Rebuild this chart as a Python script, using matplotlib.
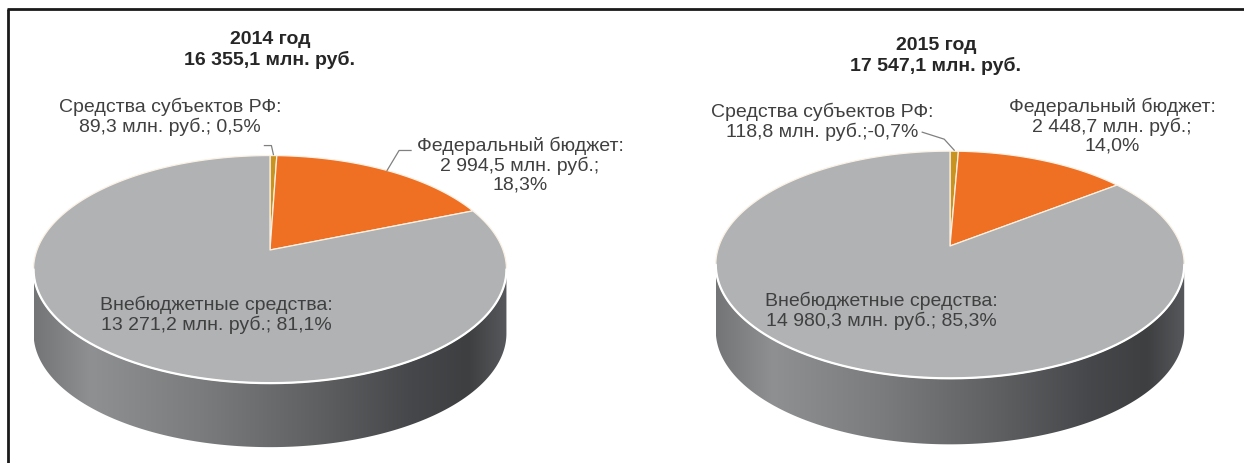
import numpy as np
import matplotlib
matplotlib.use('Agg')
import matplotlib.pyplot as plt
from matplotlib.patches import Polygon
from matplotlib.colors import LinearSegmentedColormap

plt.rcParams['font.family'] = ['Liberation Sans', 'DejaVu Sans']

# data
years = ['2014 год', '2015 год']
totals = ['16 355,1 млн. руб.', '17 547,1 млн. руб.']
sources = ['Средства субъектов РФ', 'Федеральный бюджет', 'Внебюджетные средства']
values_2014 = [89.3, 2994.5, 13271.2]
values_2015 = [118.8, 2448.7, 14980.3]
pct_2014 = ['0,5%', '18,3%', '81,1%']
pct_2015 = ['-0,7%', '14,0%', '85,3%']

slice_colors = ['#c8931f', '#f07023', '#b0b2b4']
side_cmap = LinearSegmentedColormap.from_list('side', [
    (0.0, '#737577'), (0.12, '#8e9092'), (0.35, '#7a7c7e'),
    (0.6, '#5e6062'), (0.8, '#45474a'), (0.92, '#3d3f41'), (1.0, '#56585b')])

# pie geometry in pixels: centre, radius, vertical radius, perspective, depth
geoms = [dict(cx=270, cy=250, r=233, ry=110.5, k=0.17, depth=64),
         dict(cx=950, cy=246, r=231, ry=110.5, k=0.165, depth=66)]
title_pos = [(270, 50), (936, 56)]
# label text layout per slice: separator between value and percent, and position
label_sep = [['; ', ';\n', '; '], [';', ';\n', '; ']]
label_pos = [[(170, 117), (520, 165), (216, 315)],
             [(822, 122), (1112, 126), (881, 311)]]


def fmt(v):
    return f'{v:,.1f}'.replace(',', ' ').replace('.', ',')


def project(theta, g):
    c, s = np.cos(theta), np.sin(theta)
    w = 1 + g['k'] * s
    return g['cx'] + g['r'] * c / w, g['cy'] - g['ry'] * s / w


fig = plt.figure(figsize=(12.44, 4.63), dpi=100)
ax = fig.add_axes([0, 0, 1, 1])
ax.set_xlim(0, 1244)
ax.set_ylim(463, 0)
ax.axis('off')

for i, (vals, pcts) in enumerate([(values_2014, pct_2014), (values_2015, pct_2015)]):
    g = geoms[i]
    k = g['k']

    # side wall (front half, extruded down)
    th = np.linspace(np.pi + np.arcsin(k), 2 * np.pi - np.arcsin(k), 300)
    tx, ty = project(th, g)
    side = np.column_stack([np.r_[tx, tx[::-1]], np.r_[ty, ty[::-1] + g['depth']]])
    side_patch = Polygon(side, closed=True, facecolor='none', edgecolor='none')
    ax.add_patch(side_patch)
    grad = np.linspace(0, 1, 256)[None, :]
    im = ax.imshow(grad, cmap=side_cmap, aspect='auto', interpolation='bilinear',
                   extent=(tx.min(), tx.max(), ty.max() + g['depth'] + 2, ty.min()))
    im.set_clip_path(side_patch)

    # top face slices, clockwise from 12 o'clock
    frac = np.array(vals) / np.sum(vals)
    edges = np.pi / 2 - 2 * np.pi * np.r_[0, np.cumsum(frac)]
    for j in range(len(vals)):
        arc = np.linspace(edges[j], edges[j + 1], 200)
        ax_, ay_ = project(arc, g)
        pts = np.column_stack([np.r_[g['cx'], ax_], np.r_[g['cy'], ay_]])
        ax.add_patch(Polygon(pts, closed=True, facecolor=slice_colors[j],
                             edgecolor='#fbf1e4', lw=0.9, joinstyle='round'))

    # light rim on the front edge
    ax.plot(tx, ty, color='white', lw=1.6, solid_capstyle='round')

    ax.set_xlim(0, 1244)
    ax.set_ylim(463, 0)

    # title
    ax.text(*title_pos[i], f'{years[i]}\n{totals[i]}', ha='center', va='center',
            fontsize=14, fontweight='bold', color='#262626', linespacing=1.15)

    # slice labels
    for j in range(len(vals)):
        txt = f'{sources[j]}:\n{fmt(vals[j])} млн. руб.{label_sep[i][j]}{pcts[j]}'
        ax.text(*label_pos[i][j], txt, ha='center', va='center', fontsize=14,
                color='#404040', linespacing=1.12)

    # leader lines
    mids = (edges[:-1] + edges[1:]) / 2
    gx, gy = project(mids[0], g)
    fx, fy = project(mids[1], g)
    if i == 0:
        ax.plot([gx, gx - 2, gx - 9], [gy - 1, gy - 10, gy - 10], color='#808080', lw=0.9)
        ax.plot([fx, fx + 12, fx + 24], [fy, fy - 20, fy - 20], color='#808080', lw=0.9)
    else:
        ax.plot([gx, gx - 10, gx - 32], [gy - 1, gy - 12, gy - 19], color='#808080', lw=0.9)

# frame
ax.plot([7, 1244], [9, 9], color='#1a1a1a', lw=2, solid_capstyle='butt')
ax.plot([8, 8], [9, 463], color='#1a1a1a', lw=2, solid_capstyle='butt')

fig.savefig('out.png', dpi=100, facecolor='white')
